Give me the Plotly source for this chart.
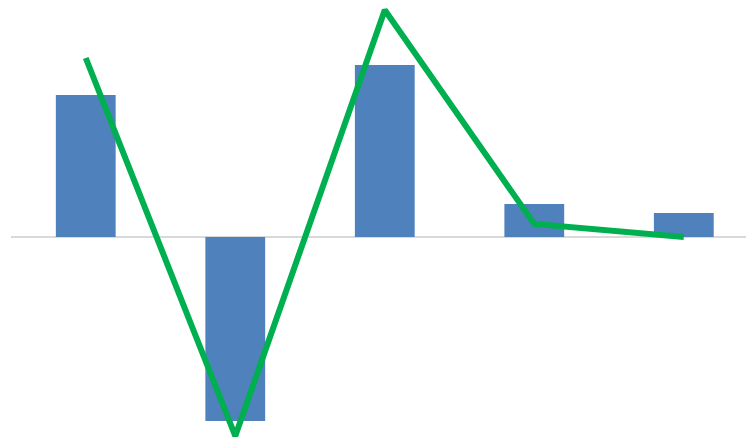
import plotly.graph_objects as go

categories = ["A", "B", "C", "D", "E"]
bar_values = [142, -184, 172, 33, 24]
line_values = [179, -199, 227, 13, 0]

fig = go.Figure()

fig.add_trace(
    go.Bar(
        x=categories,
        y=bar_values,
        width=0.4,
        marker=dict(color="#4F81BD", line=dict(width=0)),
        name="bars",
    )
)
fig.add_trace(
    go.Scatter(
        x=categories,
        y=line_values,
        mode="lines",
        line=dict(color="#00B050", width=6),
        name="line",
        cliponaxis=False,
    )
)

fig.update_layout(
    width=746,
    height=441,
    margin=dict(l=11, r=0, t=0, b=0),
    paper_bgcolor="white",
    plot_bgcolor="white",
    showlegend=False,
    xaxis=dict(
        range=[-0.5, 4.416],
        showgrid=False,
        showticklabels=False,
        zeroline=False,
        showline=False,
        ticks="",
    ),
    yaxis=dict(
        range=[-204, 237],
        showgrid=False,
        showticklabels=False,
        zeroline=True,
        zerolinecolor="#D9D9D9",
        zerolinewidth=2,
        showline=False,
        ticks="",
    ),
)

# drop the default 8px page margin so the chart sits at the window's corner
fig.write_html(
    "out.html",
    config={"displayModeBar": False},
    post_script="document.body.style.margin='0';",
)
